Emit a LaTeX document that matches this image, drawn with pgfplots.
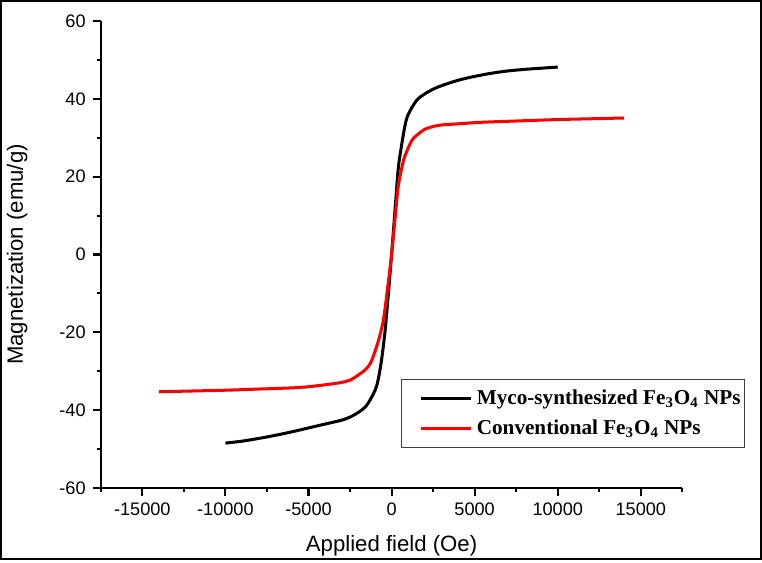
\documentclass[border=0pt]{standalone}
\usepackage{pgfplots}
\pgfplotsset{compat=1.18}
\usepackage{fontspec}
\setmainfont{Liberation Sans}
\newfontfamily\legfont{Liberation Serif}
\begin{document}
\begin{tikzpicture}
\begin{axis}[
  scale only axis,
  width=288.5pt, height=231.5pt,
  xmin=-17500, xmax=17500, ymin=-60, ymax=60,
  axis x line*=bottom, axis y line*=left,
  axis line style={line width=1pt},
  tick align=outside,
  major tick length=4pt, minor tick length=2pt,
  every tick/.style={black, line width=1pt},
  xtick={-15000,-10000,...,15000},
  minor xtick={-17500,-12500,...,17500},
  ytick={-60,-40,...,60},
  minor ytick={-50,-30,...,50},
  scaled ticks=false,
  /pgf/number format/assume math mode=true,
  /pgf/number format/1000 sep={},
  tick label style={font=\fontsize{9}{11}\selectfont},
  label style={font=\fontsize{11}{13}\selectfont},
  xlabel={Applied field (Oe)},
  ylabel={Magnetization (emu/g)},
  xlabel style={at={(axis description cs:0.5,-0.1231)}, anchor=center},
  ylabel style={at={(axis description cs:-0.1438,0.5)}, anchor=center},
  clip=false,
  legend cell align=left,
  legend image code/.code={\draw[draw=none] (0pt,0pt) -- (9.5pt,0pt); \draw[#1] (9.5pt,0pt) -- (34.5pt,0pt);},
  legend style={at={(0.5165,0.2333)}, anchor=north west, draw=black!75, line width=0.6pt,
    font=\legfont\bfseries\fontsize{10.5}{12.5}\selectfont, inner xsep=0pt, inner ysep=3pt,
    row sep=2pt},
]
\addplot[black, line width=1.5pt, smooth] coordinates {
(-10000,-48.5) (-9000,-48.0) (-8000,-47.3) (-7000,-46.5) (-6000,-45.6) (-5000,-44.6)
(-4000,-43.6) (-3000,-42.6) (-2500,-41.8) (-2000,-40.6) (-1500,-38.8) (-1000,-35)
(-800,-32) (-600,-27) (-400,-20) (-200,-10.5) (0,0) (200,11) (400,22) (600,28)
(800,33) (1000,36) (1500,39.6) (2000,41.3) (2500,42.5) (3000,43.4) (4000,44.8)
(5000,45.8) (6000,46.6) (7000,47.2) (8000,47.6) (9000,47.9) (10000,48.2)
};
\addlegendentry{Myco-synthesized Fe\textsubscript{3}O\textsubscript{4} NPs}
\addplot[red, line width=1.5pt, smooth] coordinates {
(-14000,-35.3) (-12000,-35.1) (-10000,-34.9) (-8000,-34.6) (-6000,-34.3) (-5000,-34.0)
(-4000,-33.5) (-3000,-32.9) (-2500,-32.3) (-2000,-31.0) (-1500,-29.3) (-1200,-27.3)
(-800,-22.3) (-500,-17) (-250,-9) (0,0) (250,11) (400,17.5) (600,22) (800,25.3)
(1200,29.2) (1500,30.6) (2000,32.2) (2500,32.9) (3000,33.3) (4000,33.6) (5000,33.9)
(6000,34.1) (8000,34.4) (10000,34.7) (12000,34.9) (14000,35.1)
};
\addlegendentry{Conventional Fe\textsubscript{3}O\textsubscript{4} NPs}
\draw[line width=1pt] ([shift={(-49.5pt,-35.5pt)}]rel axis cs:0,0) rectangle ([shift={(327.5pt,241.5pt)}]rel axis cs:0,0);
\end{axis}
\end{tikzpicture}
\end{document}
